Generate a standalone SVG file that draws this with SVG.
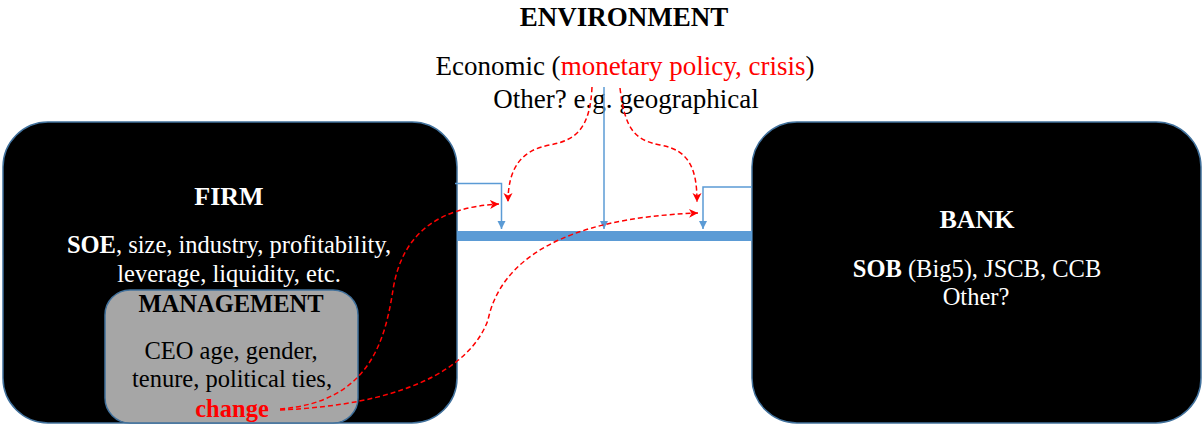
<svg xmlns="http://www.w3.org/2000/svg" width="1202" height="425" viewBox="0 0 1202 425">
<style>
text{font-family:'Liberation Serif','DejaVu Serif',serif;text-anchor:middle}
.t{font-size:27px;fill:#000}
.h{font-size:26px;font-weight:bold;fill:#fff}
.w{font-size:24.5px;fill:#fff}
.g{font-size:24.5px;fill:#000}
.rd{fill:#ff0000}
.box{fill:#000;stroke:#41719c;stroke-width:1.5}
.blue{fill:none;stroke:#5b9bd5;stroke-width:1.5}
.red{fill:none;stroke:#ff0000;stroke-width:1.5;stroke-dasharray:5,3}
</style>
<defs>
<marker id="ab" markerUnits="userSpaceOnUse" markerWidth="10" markerHeight="10" refX="8" refY="4" orient="auto"><path d="M0,0 L8,4 L0,8 z" fill="#5b9bd5"/></marker>
<marker id="ar" markerUnits="userSpaceOnUse" markerWidth="12" markerHeight="12" refX="9" refY="4.5" orient="auto"><path d="M0,0 L9,4.5 L0,9 L2.5,4.5 z" fill="#ff0000"/></marker>
</defs>
<rect width="1202" height="425" fill="#fff"/>
<g id="environment">
<text class="t" x="624" y="26" font-weight="bold">ENVIRONMENT</text>
<text class="t" x="625" y="75">Economic (<tspan class="rd">monetary policy, crisis</tspan>)</text>
<text class="t" x="626" y="108">Other? e.g. geographical</text>
</g>
<g id="firm">
<rect class="box" x="3" y="122" width="454" height="301" rx="45" ry="45"/>
<text class="h" x="229" y="205">FIRM</text>
<text class="w" x="229" y="253"><tspan font-weight="bold">SOE</tspan>, size, industry, profitability,</text>
<text class="w" x="229" y="282">leverage, liquidity, etc.</text>
</g>
<g id="management">
<rect x="105" y="290" width="253" height="133" rx="25" ry="25" fill="#a6a6a6" stroke="#41719c" stroke-width="1.5"/>
<text class="g" x="231" y="312" font-weight="bold">MANAGEMENT</text>
<text class="g" x="231" y="359">CEO age, gender,</text>
<text class="g" x="232" y="387">tenure, political ties,</text>
<text class="g rd" x="232" y="417" font-weight="bold">change</text>
</g>
<g id="bank">
<rect class="box" x="752" y="122" width="449" height="301" rx="45" ry="45"/>
<text class="h" x="977" y="228">BANK</text>
<text class="w" x="977" y="277"><tspan font-weight="bold">SOB</tspan> (Big5), JSCB, CCB</text>
<text class="w" x="976" y="305">Other?</text>
</g>
<g id="relationship">
<rect x="457" y="231" width="295" height="10" fill="#5b9bd5"/>
</g>
<g id="connectors">
<path class="blue" d="M455,183.5 H501.5 V229" marker-end="url(#ab)"/>
<path class="blue" d="M604,87 V229" marker-end="url(#ab)"/>
<path class="blue" d="M752,187 H703 V229" marker-end="url(#ab)"/>
<path class="red" d="M592,87 C590,130 575,140 550,145 C520,150 508,170 508,202" marker-end="url(#ar)"/>
<path class="red" d="M620,88 C625,130 635,140 660,145 C690,150 697,170 697,202" marker-end="url(#ar)"/>
<path class="red" d="M280,409 C370,402 385,340 393,290 C402,232 440,207 499,204" marker-end="url(#ar)"/>
<path class="red" d="M280,410 C400,405 470,370 488,320 C500,262 560,218 698,213" marker-end="url(#ar)"/>
</g>
</svg>
